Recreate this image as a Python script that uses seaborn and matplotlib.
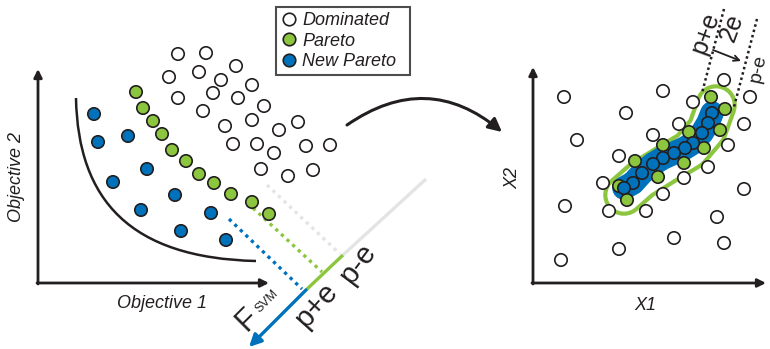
import numpy as np
import pandas as pd
import seaborn as sns
import matplotlib.pyplot as plt
from matplotlib.path import Path
from matplotlib.patches import PathPatch
from matplotlib.lines import Line2D

sns.set_theme(style="white")
plt.rcParams['font.family'] = ['Liberation Sans', 'DejaVu Sans']

GREEN = '#8cc63f'
BLUE = '#0072bc'
LIGHT = '#e3e4e5'
INK = '#231f20'

# ---- Objective space (left) ----
dom_obj1 = [140, 168, 198, 131, 161, 183, 214, 140, 175, 200, 165, 226,
            187, 214, 241, 260, 195, 219, 236, 268, 292, 223, 250, 275]
dom_obj2 = [229, 230, 217, 206, 211, 203, 198, 185, 190, 185, 172, 177,
            157, 163, 153, 161, 139, 139, 130, 137, 138, 114, 107, 113]
par_obj1 = [98, 105, 115, 124, 134, 148, 161, 176, 193, 214, 231]
par_obj2 = [191, 175, 162, 149, 133, 122, 109, 100, 89, 81, 69]
new_obj1 = [56, 60, 90, 109, 75, 137, 103, 173, 143, 188]
new_obj2 = [169, 141, 147, 114, 101, 88, 73, 70, 52, 43]

# ---- Decision space (right) ----
dom_x1 = [31, 130, 191, 217, 93, 160, 44, 120, 146, 211, 195, 86, 175,
          151, 70, 211, 130, 32, 76, 113, 184, 141, 191, 86, 28]
dom_x2 = [186, 192, 203, 186, 170, 181, 143, 148, 159, 159, 138, 127, 116,
          105, 100, 94, 89, 77, 72, 72, 66, 45, 40, 34, 23]
par_x1 = [178, 192, 187, 156, 130, 171, 102, 151, 125, 86, 94]
par_x2 = [186, 174, 153, 151, 138, 135, 122, 120, 106, 97, 83]
new_x1 = [179, 175, 169, 160, 152, 141, 130, 120, 109, 100, 91]
new_x2 = [170, 160, 150, 140, 135, 130, 125, 119, 110, 100, 95]

KINDS = ['Dominated', 'Pareto', 'New Pareto']
PALETTE = {'Dominated': 'white', 'Pareto': GREEN, 'New Pareto': BLUE}

left = pd.DataFrame({
    'obj1': dom_obj1 + par_obj1 + new_obj1,
    'obj2': dom_obj2 + par_obj2 + new_obj2,
    'kind': ['Dominated'] * len(dom_obj1) + ['Pareto'] * len(par_obj1)
            + ['New Pareto'] * len(new_obj1),
})
right = pd.DataFrame({
    'x1': dom_x1 + par_x1 + new_x1,
    'x2': dom_x2 + par_x2 + new_x2,
    'kind': ['Dominated'] * len(dom_x1) + ['Pareto'] * len(par_x1)
            + ['New Pareto'] * len(new_x1),
})

W, H = 770, 349
fig = plt.figure(figsize=(W / 100, H / 100), dpi=100)

# both panels span the whole canvas; limits place each origin at its corner
axl = fig.add_axes([0, 0, 1, 1])
axl.set_xlim(-38, W - 38)
axl.set_ylim(283 - H, 283)
axr = fig.add_axes([0, 0, 1, 1])
axr.set_xlim(-533, W - 533)
axr.set_ylim(283 - H, 283)
for a in (axl, axr):
    a.axis('off')
    a.patch.set_alpha(0)

MS = 80
EW = 1.2
FS = 13


def axis_arrow(ax, xy, xytext):
    ax.annotate('', xy=xy, xytext=xytext,
                arrowprops=dict(arrowstyle='-|>', lw=2.0, color=INK,
                                mutation_scale=12, shrinkA=0, shrinkB=0))


# left axes
axis_arrow(axl, (0, 214), (0, -1))
axis_arrow(axl, (231, 0), (-1, 0))
axl.text(-21, 106, 'Objective 2', rotation=90, ha='center', va='center',
         fontsize=FS, style='italic', color=INK)
axl.text(124, -20, 'Objective 1', ha='center', va='center',
         fontsize=FS, style='italic', color=INK)

# front curve
front = Path([(38, 185), (40, 83), (92, 25), (218, 22)],
             [Path.MOVETO, Path.CURVE4, Path.CURVE4, Path.CURVE4])
axl.add_patch(PathPatch(front, fill=False, lw=1.8, color=INK))

# projection direction F_SVM
axl.plot([388, 305], [104, 28], color=LIGHT, lw=2.4, solid_capstyle='butt')
axl.plot([305, 268], [28, -7], color=GREEN, lw=2.4, solid_capstyle='butt')
axl.annotate('', xy=(211, -64), xytext=(268, -7),
             arrowprops=dict(arrowstyle='-|>', lw=2.4, color=BLUE,
                             mutation_scale=18, shrinkA=0, shrinkB=0))
dots = (0, (1.0, 1.3))
axl.plot([229, 302], [98, 29], color=LIGHT, lw=2.4, ls=dots)
axl.plot([215, 284], [75, 11], color=GREEN, lw=2.4, ls=dots)
axl.plot([191, 264], [64, -6], color=BLUE, lw=2.4, ls=dots)

axl.text(209, -37, 'F', rotation=45, ha='center', va='center',
         fontsize=22, color=INK)
axl.text(229, -18, 'SVM', rotation=45, ha='center', va='center',
         fontsize=9, color=INK)
axl.text(278, -22, 'p+e', rotation=48, ha='center', va='center',
         fontsize=21, color=INK)
axl.text(320, 19, 'p-e', rotation=53, ha='center', va='center',
         fontsize=21, color=INK)

# arrow from objective space to decision space
axl.annotate('', xy=(464, 151), xytext=(309, 158),
             arrowprops=dict(arrowstyle='-|>', lw=2.2, color=INK,
                             mutation_scale=20, shrinkA=0, shrinkB=0,
                             connectionstyle='arc3,rad=-0.38'))

sns.scatterplot(data=left, x='obj1', y='obj2', hue='kind', hue_order=KINDS,
                palette=PALETTE, s=MS, edgecolor=INK, linewidth=EW,
                legend=False, ax=axl, zorder=5)

handles = [Line2D([], [], ls='none', marker='o', markersize=9,
                  markerfacecolor=PALETTE[k], markeredgecolor=INK,
                  markeredgewidth=EW) for k in KINDS]
leg = axl.legend(handles, KINDS, loc='upper left', mode='expand',
                 bbox_to_anchor=(276 / W, 1 - 73 / H, 134 / W, 66 / H),
                 bbox_transform=fig.transFigure, frameon=True, fancybox=False,
                 edgecolor=INK, prop={'style': 'italic', 'size': FS},
                 handletextpad=0.35, handlelength=0.8, labelspacing=0.18,
                 borderpad=0.3, borderaxespad=0)
leg.get_frame().set_linewidth(1.5)
for t in leg.get_texts():
    t.set_color(INK)

# right axes
axis_arrow(axr, (0, 216), (0, -1))
axis_arrow(axr, (233, 0), (-1, 0))
axr.text(-20, 105, 'X2', rotation=90, ha='center', va='center',
         fontsize=FS, style='italic', color=INK)
axr.text(112, -22, 'X1', ha='center', va='center',
         fontsize=FS, style='italic', color=INK)

# bands around the two fronts
band_x = [91, 108, 132, 157, 174, 183]
band_y = [88, 103, 118, 133, 153, 178]
axr.plot(band_x, band_y, color=GREEN, lw=30, solid_capstyle='round',
         solid_joinstyle='round', zorder=1)
axr.plot(band_x, band_y, color='white', lw=24, solid_capstyle='round',
         solid_joinstyle='round', zorder=1.1)
axr.plot(new_x1, new_x2, color=BLUE, lw=17, solid_capstyle='round',
         solid_joinstyle='round', zorder=1.2)

# epsilon tube boundaries
rdots = (0, (1.0, 1.2))
axr.plot([191, 169], [274, 190], color=INK, lw=1.8, ls=rdots, zorder=2)
axr.plot([224, 201], [264, 176], color=INK, lw=1.8, ls=rdots, zorder=2)
axr.annotate('', xy=(208, 222), xytext=(180, 233),
             arrowprops=dict(arrowstyle='->', lw=1.3, color=INK,
                             mutation_scale=10, shrinkA=0, shrinkB=0))
axr.text(172, 250, 'p+e', rotation=70, ha='center', va='center',
         fontsize=18, color=INK)
axr.text(199, 255, '2e', rotation=70, ha='center', va='center',
         fontsize=18, color=INK)
axr.text(225, 215, 'p-e', rotation=78, ha='center', va='center',
         fontsize=14, color=INK)

sns.scatterplot(data=right, x='x1', y='x2', hue='kind', hue_order=KINDS,
                palette=PALETTE, s=MS, edgecolor=INK, linewidth=EW,
                legend=False, ax=axr, zorder=5)

fig.savefig('out.png', dpi=100)
